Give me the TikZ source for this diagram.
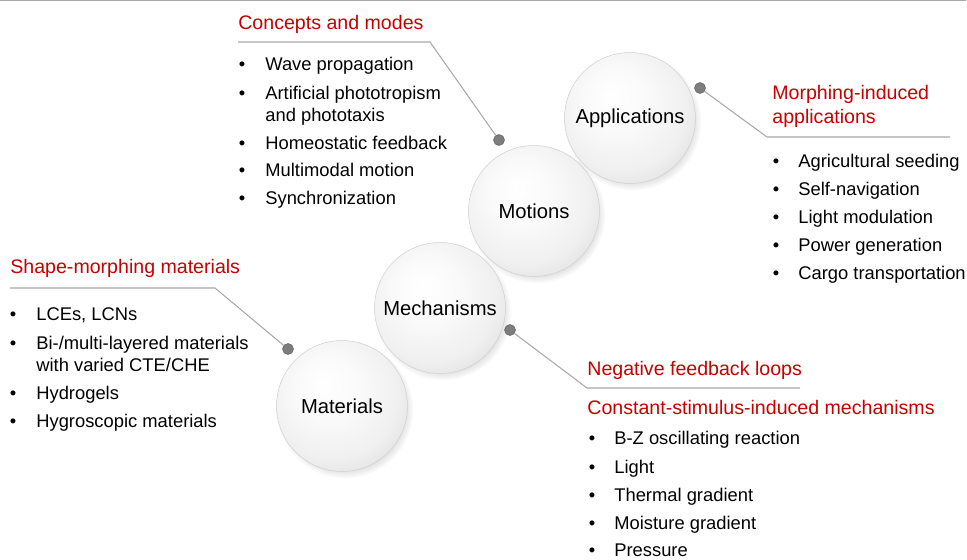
\documentclass[tikz,border=0pt]{standalone}
\usepackage{fontspec}
\setmainfont{Liberation Sans}
\usetikzlibrary{shadows}

\definecolor{headred}{RGB}{200,0,0}
\definecolor{leadgray}{RGB}{168,168,168}
\definecolor{pingray}{RGB}{125,125,125}

\pgfdeclareradialshading{sphere}{\pgfpoint{-7bp}{9bp}}{color(0bp)=(white); color(12bp)=(white!98!black); color(25bp)=(white!94!black); color(33bp)=(white!88!black); color(50bp)=(white!82!black)}

\tikzset{
    ball/.style={circle, minimum size=2.62cm, inner sep=0pt, shade, shading=sphere, draw=white!82!black, line width=0.3pt,
        circular drop shadow={shadow xshift=1.5pt, shadow yshift=-2pt, shadow scale=1.05, opacity=0.28},
        font=\fontsize{11.5}{13}\selectfont},
    head/.style={anchor=base west, inner sep=0pt, text=headred, font=\fontsize{11.15}{13.4}\selectfont},
    item/.style={anchor=base west, inner sep=0pt, font=\fontsize{10.45}{12.5}\selectfont},
    bull/.style={anchor=base, inner sep=0pt, font=\fontsize{10.45}{12.5}\selectfont},
    pin/.style={circle, fill=pingray, draw=pingray!80!black, line width=0.3pt, minimum size=0.22cm, inner sep=0pt},
    leader/.style={draw=leadgray, line width=0.6pt},
}

\begin{document}
\begin{tikzpicture}[x=0.02cm, y=-0.02cm]
    \useasboundingbox (0,0) rectangle (967,559);
    \draw[leadgray, line width=0.8pt] (0,0.6) -- (966,0.6);

    \node[ball] (mat) at (342,406) {Materials};
    \node[ball] (mech) at (440,308) {Mechanisms};
    \node[ball] (mot) at (534,211) {Motions};
    \node[ball] (app) at (630,118) {Applications};

    \coordinate (matc) at (215,288);
    \coordinate (mate) at (10,288);
    \coordinate (motc) at (430,42);
    \coordinate (mote) at (238,42);
    \coordinate (mechc) at (587,388);
    \coordinate (meche) at (800,388);
    \coordinate (appc) at (767,137);
    \coordinate (appe) at (950,137);

    \node[pin] (matp) at (288,349) {};
    \node[pin] (mechp) at (510,330) {};
    \node[pin] (motp) at (499,140) {};
    \node[pin] (appp) at (700,88) {};

    \draw[leader] (matp) -- (matc) -- (mate);
    \draw[leader] (motp) -- (motc) -- (mote);
    \draw[leader] (mechp) -- (mechc) -- (meche);
    \draw[leader] (appp) -- (appc) -- (appe);

    \node[head] (mathead) at (10,273) {Shape-morphing materials};
    \node[head] (mothead) at (238,29.3) {Concepts and modes};
    \node[head] (mechhead) at (587,375) {Negative feedback loops};
    \node[head] (mechsub) at (587,414) {Constant-stimulus-induced mechanisms};
    \node[head] (apphead) at (772,99.3) {Morphing-induced};
    \node[head] (appsub) at (772,123.3) {applications};

    \foreach \y/\t [count=\i] in {320.7/{LCEs, LCNs}, 349.3/{Bi-/multi-layered materials}, 371/{with varied CTE/CHE}, 399.3/Hydrogels, 427.3/Hygroscopic materials}
        \node[item] (mat\i) at (36,\y) {\t};
    \foreach \y [count=\i] in {320.7, 349.3, 399.3, 427.3}
        \node[bull] (matb\i) at (13,\y) {\textbullet};

    \foreach \y/\t [count=\i] in {70.5/Wave propagation, 99.3/Artificial phototropism, 121/and phototaxis, 149.3/Homeostatic feedback, 176.7/Multimodal motion, 204/Synchronization}
        \node[item] (mot\i) at (265,\y) {\t};
    \foreach \y [count=\i] in {70.5, 99.3, 149.3, 176.7, 204}
        \node[bull] (motb\i) at (242,\y) {\textbullet};

    \foreach \y/\t [count=\i] in {444.3/B-Z oscillating reaction, 473/Light, 501.7/Thermal gradient, 529/Moisture gradient, 556.7/Pressure}
        \node[item] (mech\i) at (614,\y) {\t};
    \foreach \y [count=\i] in {444.3, 473, 501.7, 529, 556.7}
        \node[bull] (mechb\i) at (592,\y) {\textbullet};

    \foreach \y/\t [count=\i] in {167/Agricultural seeding, 195/Self-navigation, 223/Light modulation, 251/Power generation, 279/Cargo transportation}
        \node[item] (app\i) at (798,\y) {\t};
    \foreach \y [count=\i] in {167, 195, 223, 251, 279}
        \node[bull] (appb\i) at (776,\y) {\textbullet};
\end{tikzpicture}
\end{document}
